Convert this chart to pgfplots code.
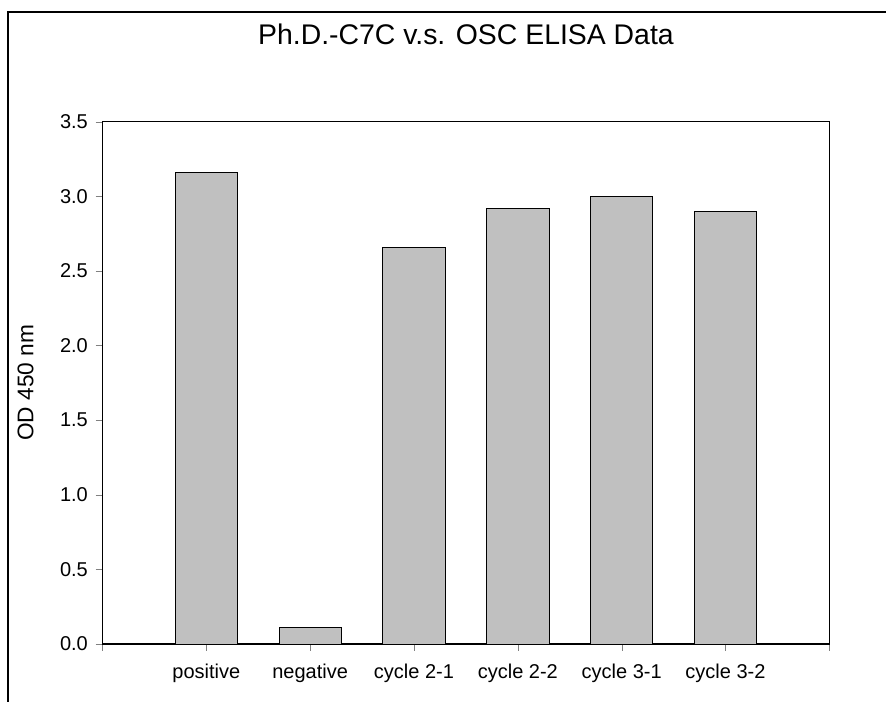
\documentclass[border=0pt]{standalone}
\usepackage{fontspec}
\setmainfont{Liberation Sans}
\usepackage{pgfplots}
\pgfplotsset{compat=1.18}
\usetikzlibrary{calc}
\definecolor{bargray}{HTML}{C0C0C0}

\begin{document}
\begin{tikzpicture}
\useasboundingbox (0,0) rectangle (664.5pt,526.5pt);
% frame of the original figure, cut off at the right and bottom
\draw[line width=1.5pt] (6pt,0pt) -- (6pt,517.5pt) -- (664.5pt,517.5pt);
\begin{axis}[
    at={(76.9pt,43.5pt)}, anchor=south west,
    scale only axis,
    width=545.1pt, height=391.7pt,
    xmin=0, xmax=7,
    ymin=0, ymax=3.5,
    xtick={0,1,2,3,4,5,6,7},
    xticklabels={{},positive,negative,cycle 2-1,cycle 2-2,cycle 3-1,cycle 3-2,{}},
    ytick={0,0.5,1,1.5,2,2.5,3,3.5},
    /pgf/number format/fixed,
    /pgf/number format/fixed zerofill,
    /pgf/number format/precision=1,
    /pgf/number format/assume math mode=true,
    tick pos=left,
    tick align=outside,
    major tick length=5.25pt,
    every axis/.append style={line width=0.9pt},
    tick label style={font=\fontsize{15}{18}\selectfont},
    xticklabel style={yshift=-6pt},
    yticklabel style={xshift=-2pt},
    title={Ph.D.-C7C v.s. OSC ELISA Data},
    title style={font=\fontsize{21.3}{25}\selectfont, at={(axis description cs:0.5,1)}, anchor=base, yshift=52pt},
    ylabel={OD 450 nm},
    ylabel style={font=\fontsize{17}{20}\selectfont, at={($(axis description cs:0,0.5)+(-51.9pt,0pt)$)}, anchor=base},
]
\addplot[ybar, bar width=0.6, fill=bargray, draw=black, line width=0.6pt] coordinates {
    (1,3.16) (2,0.11) (3,2.66) (4,2.92) (5,3.00) (6,2.90)
};
\end{axis}
\end{tikzpicture}
\end{document}
